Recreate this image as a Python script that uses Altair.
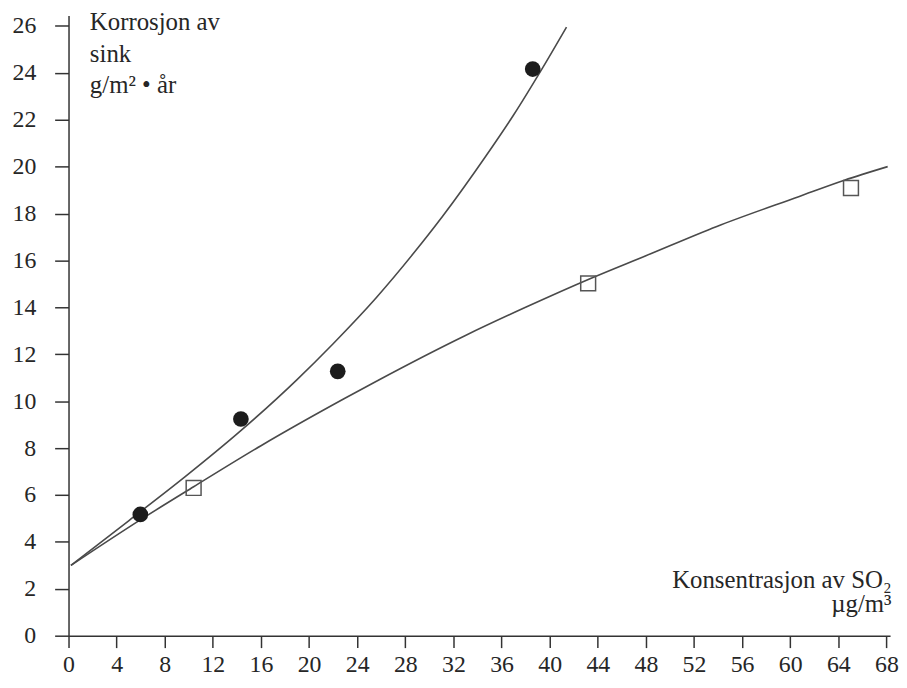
import altair as alt
import pandas as pd

zinc_x = [5.97, 14.33, 22.38, 38.59]
zinc_y = [5.17, 9.24, 11.27, 24.16]

square_x = [10.4, 43.2, 65.05]
square_y = [6.30, 15.02, 19.09]

# Fitted curves
upper_x = [0.2, 5, 9.7, 14.3, 19.0, 22.0, 25.6, 28.65, 31.1, 34.7, 37.0, 39.4, 41.4]
upper_y = [3.0, 4.9, 6.78, 8.73, 10.92, 12.45, 14.42, 16.28, 17.88, 20.45, 22.2, 24.2, 25.95]

lower_x = [0.2, 6, 10.4, 16, 22.9, 25.6, 33, 38, 43.5, 48, 53.9, 60.7, 64.5, 68.1]
lower_y = [3.0, 4.95, 6.35, 8.1, 10.1, 10.85, 12.8, 14.0, 15.25, 16.2, 17.45, 18.72, 19.42, 20.0]

x_ticks = list(range(0, 69, 4))
y_ticks = list(range(0, 27, 2))

y_title = ["Korrosjon av", "sink", "g/m² • år"]
x_title = ["Konsentrasjon av SO₂", "µg/m³"]

FONT = "Liberation Serif, Times New Roman, serif"
INK = "#262626"

curves = pd.DataFrame(
    {"x": upper_x + lower_x,
     "y": upper_y + lower_y,
     "curve": ["upper"] * len(upper_x) + ["lower"] * len(lower_x),
     "order": list(range(len(upper_x))) + list(range(len(lower_x)))}
)
zinc = pd.DataFrame({"x": zinc_x, "y": zinc_y})
squares = pd.DataFrame({"x": square_x, "y": square_y})

x_enc = alt.X(
    "x:Q",
    scale=alt.Scale(domain=[0, 68.3], nice=False, zero=False),
    axis=alt.Axis(
        values=x_ticks, title=x_title, grid=False,
        tickSize=12, labelPadding=5, labelFlush=False, labelOverlap=False,
        titleAlign="right", titleAnchor="start", titleBaseline="alphabetic",
        titleX=829, titleY=-49, titleLineHeight=25, titleFontWeight="normal",
        titleAngle=0,
    ),
)
y_enc = alt.Y(
    "y:Q",
    scale=alt.Scale(domain=[0, 26.44], nice=False, zero=False),
    axis=alt.Axis(
        values=y_ticks, title=y_title, grid=False,
        tickSize=14, labelPadding=19, labelFlush=False, labelOverlap=False,
        titleAngle=0, titleAlign="left", titleAnchor="start",
        titleBaseline="alphabetic", titleX=21, titleY=14, titleLineHeight=32,
        titleFontWeight="normal",
    ),
)

lines = alt.Chart(curves).mark_line(
    color="#4a4a4a", strokeWidth=1.6, interpolate="monotone"
).encode(x=x_enc, y=y_enc, detail="curve:N", order="order:Q")

dots = alt.Chart(zinc).mark_circle(size=250, color="#1c1c1c", opacity=1).encode(
    x="x:Q", y="y:Q"
)

boxes = alt.Chart(squares).mark_square(
    size=225, filled=False, stroke="#555555", strokeWidth=1.5, opacity=1
).encode(x="x:Q", y="y:Q")

chart = (
    alt.layer(lines, boxes, dots)
    .properties(
        width=828, height=625,
        autosize=alt.AutoSizeParams(type="none"),
        padding={"left": 61, "top": 5, "right": 9, "bottom": 40},
        background="white",
    )
    .configure_view(stroke=None)
    .configure_axis(
        domainColor="#333333", domainWidth=1.5,
        tickColor="#333333", tickWidth=1.5,
        labelFont=FONT, labelFontSize=24, labelColor=INK,
        titleFont=FONT, titleFontSize=25, titleColor=INK,
    )
)

chart.save("out.html", embed_options={"renderer": "svg", "actions": False})
